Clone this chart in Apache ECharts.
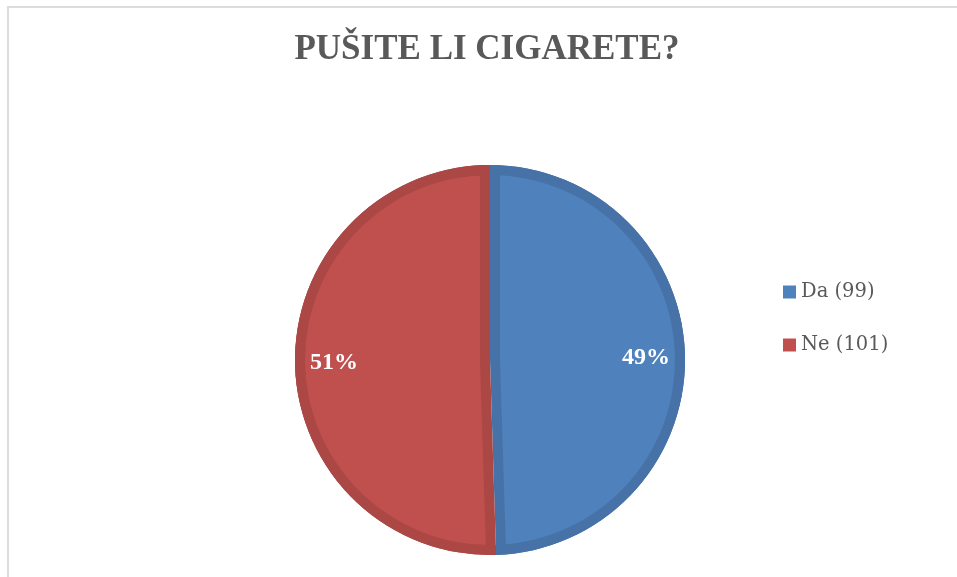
<!DOCTYPE html>
<html>
<head>
<meta charset="utf-8">
<script src="https://cdn.jsdelivr.net/npm/echarts@6/dist/echarts.min.js"></script>
<style>
  html, body { margin: 0; padding: 0; background: #ffffff; }
  #frame { position: absolute; left: 7px; top: 6px; width: 2000px; height: 2000px; border: 2px solid #dcdcdc; box-sizing: border-box; }
  #chart { position: absolute; left: 0; top: 0; width: 957px; height: 577px; }
</style>
</head>
<body>
<div id="frame"></div>
<div id="chart"></div>
<script>
const titleText = 'PUŠITE LI CIGARETE?';
const categories = ['Da', 'Ne'];
const values = [99, 101];
const percentLabels = ['49%', '51%'];
const lightColors = ['#4F81BD', '#C0504D'];
const darkColors = ['#4672A8', '#AB4744'];

const chart = echarts.init(document.getElementById('chart'));

const center = [490, 360];

function makeData(colors, extra) {
  return categories.map((name, i) => Object.assign({
    name: name,
    value: values[i],
    itemStyle: { color: colors[i], borderWidth: 0 },
    select: { itemStyle: { color: colors[i], borderWidth: 0 } }
  }, extra ? extra(i) : {}));
}

const common = {
  type: 'pie',
  center: center,
  startAngle: 90,
  clockwise: true,
  silent: true,
  emphasis: { disabled: true },
  label: { show: false },
  labelLine: { show: false },
  avoidLabelOverlap: false,
  animation: false
};

chart.setOption({
  animation: false,
  title: {
    text: titleText,
    left: 487,
    top: 32,
    padding: 0,
    textAlign: 'center',
    textStyle: {
      fontFamily: 'Liberation Serif',
      fontWeight: 'bold',
      fontSize: 35,
      color: '#595959'
    }
  },
  legend: {
    orient: 'vertical',
    left: 783,
    top: 282,
    padding: 0,
    itemWidth: 13,
    itemHeight: 13,
    itemGap: 33,
    icon: 'rect',
    selectedMode: false,
    data: categories.map((name, i) => ({ name: name, itemStyle: { color: lightColors[i] } })),
    formatter: function (name) {
      const i = categories.indexOf(name);
      return name + ' (' + values[i] + ')';
    },
    textStyle: {
      fontFamily: 'DejaVu Serif',
      fontSize: 19.5,
      color: '#595959'
    }
  },
  series: [
    Object.assign({}, common, {
      name: 'base',
      z: 1,
      radius: [0, 195],
      data: makeData(darkColors)
    }),
    Object.assign({}, common, {
      name: 'fill',
      z: 2,
      radius: [0, 185],
      selectedMode: 'multiple',
      selectedOffset: 10,
      data: makeData(lightColors, () => ({ selected: true }))
    }),
    Object.assign({}, common, {
      name: 'rim',
      z: 3,
      radius: [185, 195],
      data: makeData(darkColors)
    }),
    Object.assign({}, common, {
      name: 'labels',
      z: 4,
      radius: [116, 190],
      data: makeData(['rgba(0,0,0,0)', 'rgba(0,0,0,0)']),
      label: {
        show: true,
        position: 'inside',
        formatter: function (p) { return percentLabels[p.dataIndex]; },
        fontFamily: 'Liberation Serif',
        fontWeight: 'bold',
        fontSize: 24,
        color: '#ffffff'
      }
    })
  ]
});
</script>
</body>
</html>
